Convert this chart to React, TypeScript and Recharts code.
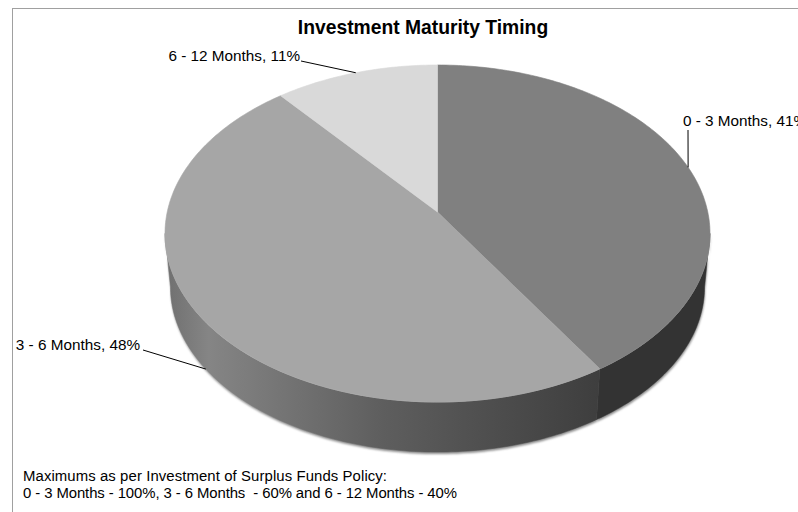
import React from "react";
import { PieChart, Pie, Cell } from "recharts";

const categories = ["0 - 3 Months", "3 - 6 Months", "6 - 12 Months"];
const shares = [41, 48, 11];
const topColors = ["#808080", "#a6a6a6", "#d9d9d9"];
const wallFills = ["#333333", "url(#wallGrad)", "none"];
const titleText = "Investment Maturity Timing";
const noteLines = [
  "Maximums as per Investment of Surplus Funds Policy:",
  "0 - 3 Months - 100%, 3 - 6 Months  - 60% and 6 - 12 Months - 40%",
];
const noteWidths = [364, 434];
const data = categories.map((name, i) => ({ name, value: shares[i] }));

const FONT = "'Liberation Sans', Arial, sans-serif";
const W = 798;
const H = 512;
const R = 270;
const CX = 437.5;
const CY = 212;
// Perspective projection of the pie disc
const K = -0.1276;
const AX = 1.001;
const BY = 0.614;
const MID_Y = 21.5; // widest row of the ellipse below the apex
const DROP = 53.4;
const SHRINK = 0.98;
// Visible front limits of the wall in chart angles
const WALL_MAX = -7.33;
const WALL_MIN = -172.67;

const rad = (d: number) => (d * Math.PI) / 180;

function rim(cx: number, cy: number, r: number, a: number) {
  const u = Math.cos(rad(a));
  const v = -Math.sin(rad(a));
  const d = 1 + K * v;
  return { x: cx + (AX * r * u) / d, y: cy + (BY * r * v) / d };
}
function lower(cx: number, cy: number, r: number, a: number) {
  const p = rim(cx, cy, r, a);
  const my = cy + MID_Y;
  return { x: cx + SHRINK * (p.x - cx), y: my + DROP + SHRINK * (p.y - my) };
}
function arcPts(fn: (a: number) => { x: number; y: number }, from: number, to: number) {
  const n = Math.max(2, Math.ceil(Math.abs(to - from)));
  const pts: string[] = [];
  for (let i = 0; i <= n; i++) {
    const p = fn(from + ((to - from) * i) / n);
    pts.push(`${p.x.toFixed(2)} ${p.y.toFixed(2)}`);
  }
  return pts;
}

function TopFace(props: any) {
  const { cx, cy, outerRadius, startAngle, endAngle, fill } = props;
  const pts = arcPts((a) => rim(cx, cy, outerRadius, a), startAngle, endAngle);
  return <path d={`M${cx} ${cy}L${pts.join("L")}Z`} fill={fill} stroke={fill} strokeWidth={0.6} />;
}

function wallPath(props: any) {
  const { cx, cy, outerRadius, startAngle, endAngle } = props;
  const from = Math.min(startAngle, WALL_MAX);
  const to = Math.max(endAngle, WALL_MIN);
  if (from <= to) return null;
  const up = arcPts((a) => rim(cx, cy, outerRadius, a), from, to);
  const down = arcPts((a) => lower(cx, cy, outerRadius, a), to, from);
  return { d: `M${up.join("L")}L${down.join("L")}Z`, rimLine: `M${up.join("L")}` };
}

function WallShadow(props: any) {
  const w = wallPath(props);
  if (!w || props.fill === "none") return <g />;
  return <path d={w.d} fill="#8a8a8a" transform="translate(0.5 2)" filter="url(#soft)" />;
}

function WallFace(props: any) {
  const w = wallPath(props);
  if (!w || props.fill === "none") return <g />;
  return (
    <g>
      <path d={w.d} fill={props.fill} stroke={props.fill} strokeWidth={0.5} />
      <path d={w.rimLine} fill="none" stroke="#d0d0d0" strokeWidth={0.8} strokeOpacity={0.6} />
    </g>
  );
}

const labelSpots: Record<string, any> = {
  "0 - 3 Months": { x: 683, y: 126, anchor: "start", lx: 688, ly: 130, wall: false },
  "3 - 6 Months": { x: 140, y: 350, anchor: "end", lx: 143, ly: 350, wall: true },
  "6 - 12 Months": { x: 300, y: 61, anchor: "end", lx: 301, ly: 61, wall: false },
};

function SliceLabel(props: any) {
  const { name, percent } = props;
  const s = labelSpots[name];
  return (
    <text x={s.x} y={s.y} textAnchor={s.anchor} fontFamily={FONT} fontSize={15.3} fill="#000">
      {`${name}, ${Math.round(percent * 100)}%`}
    </text>
  );
}

function SliceLine(props: any) {
  const { name, cx, cy, outerRadius, midAngle } = props;
  const s = labelSpots[name];
  const p = s.wall ? lower(cx, cy, outerRadius, midAngle) : rim(cx, cy, outerRadius, midAngle);
  return <path d={`M${s.lx} ${s.ly}L${p.x} ${p.y}`} stroke="#000" strokeWidth={1} fill="none" />;
}

function basePie(shape: any, fills: string[], extra: any) {
  return (
    <Pie
      data={data}
      dataKey="value"
      nameKey="name"
      cx={CX}
      cy={CY}
      outerRadius={R}
      startAngle={90}
      endAngle={-270}
      paddingAngle={0}
      isAnimationActive={false}
      shape={shape}
      stroke="none"
      {...extra}
    >
      {data.map((d, i) => (
        <Cell key={d.name} fill={fills[i]} />
      ))}
    </Pie>
  );
}

export default function App() {
  return (
    <div style={{ position: "absolute", left: 0, top: 0, width: W, height: H, overflow: "hidden", background: "#fff" }}>
      <PieChart width={W} height={H} margin={{ top: 0, right: 0, bottom: 0, left: 0 }}>
        <defs>
          <linearGradient id="wallGrad" gradientUnits="userSpaceOnUse" x1={165} y1={0} x2={600} y2={0}>
            <stop offset="0" stopColor="#6f6f6f" />
            <stop offset="0.1" stopColor="#858585" />
            <stop offset="0.5" stopColor="#5e5e5e" />
            <stop offset="1" stopColor="#3e3e3e" />
          </linearGradient>
          <filter id="soft" x="-5%" y="-5%" width="110%" height="110%">
            <feGaussianBlur stdDeviation="1.2" />
          </filter>
        </defs>
        <rect x={12.5} y={8.5} width={W} height={H} fill="none" stroke="#a0a0a0" strokeWidth={1} />
        {basePie(WallShadow, wallFills, { label: false, labelLine: false })}
        {basePie(WallFace, wallFills, { label: false, labelLine: false })}
        {basePie(TopFace, topColors, { label: SliceLabel, labelLine: SliceLine })}
        <text x={423} y={34} textAnchor="middle" fontFamily={FONT} fontWeight="bold" fontSize={19.3} fill="#000">
          {titleText}
        </text>
        {noteLines.map((line, i) => (
          <text
            key={i}
            x={23}
            y={481 + i * 17}
            fontFamily={FONT}
            fontSize={14.9}
            fill="#000"
            textLength={noteWidths[i]}
            lengthAdjust="spacing"
            style={{ whiteSpace: "pre" }}
          >
            {line}
          </text>
        ))}
      </PieChart>
    </div>
  );
}
